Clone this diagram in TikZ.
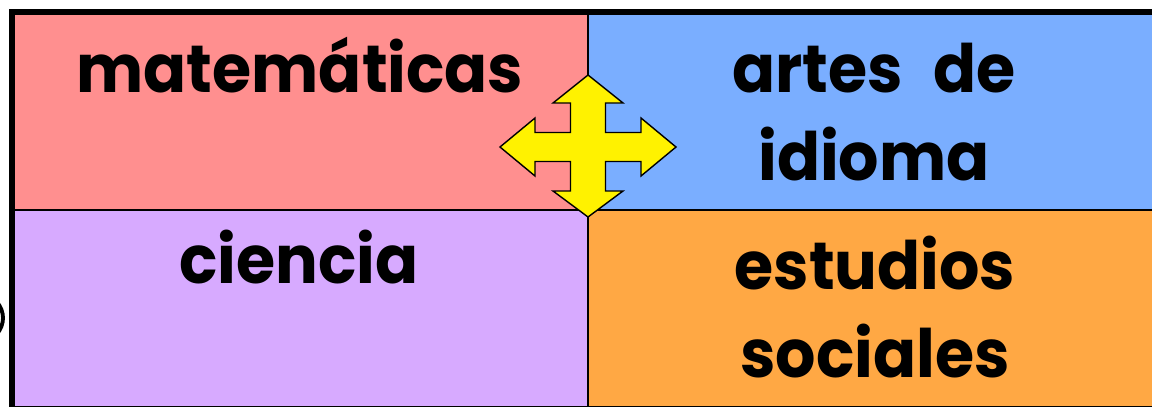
\documentclass[tikz,border=0pt]{standalone}
\usepackage{fontspec}
\setmainfont{Poppins}[FakeStretch=0.95]
\definecolor{mathred}{HTML}{FF8F8F}
\definecolor{langblue}{HTML}{7AAEFF}
\definecolor{scipurple}{HTML}{D7AAFF}
\definecolor{socorange}{HTML}{FFA844}
\begin{document}
\begin{tikzpicture}[x=0.02cm,y=-0.02cm]
\tikzset{
    quad/.style={fill=\col},
    frame line/.style={line width=3pt},
    inner line/.style={line width=1.2pt},
    subject/.style={font=\fontsize{38}{50}\selectfont\bfseries, align=center, anchor=base},
    cross/.style={fill=yellow, draw=black, line width=0.8pt, line join=miter}}
\def\xl{12}
\def\xm{588}
\def\xr{1162}
\def\yt{12}
\def\ym{210}
\def\yb{409}

\useasboundingbox (0,0) rectangle (1152,406);

% quadrants
\def\col{mathred}
\fill[quad] (\xl,\yt) rectangle (\xm,\ym);
\def\col{langblue}
\fill[quad] (\xm,\yt) rectangle (\xr,\ym);
\def\col{scipurple}
\fill[quad] (\xl,\ym) rectangle (\xm,\yb);
\def\col{socorange}
\fill[quad] (\xm,\ym) rectangle (\xr,\yb);

\draw[inner line] (\xm,\yt)--(\xm,\yb);
\draw[inner line] (\xl,\ym)--(\xr,\ym);
\draw[frame line] (\xr,\yt)--(\xl,\yt)--(\xl,\yb)--(\xr,\yb);

% left edge piece
\draw[line width=2.2pt] (-3,302) .. controls (5,312) and (5,324) .. (-3,334);

% labels (base = last line)
\node[subject] (math) at (300,92) {matemáticas};
\node[subject] (lang) at (874,180) {artes\hspace{0.45em}de\\idioma};
\node[subject] (sci) at (299,283) {ciencia};
\node[subject] (soc) at (875,377) {estudios\\sociales};

% four-way arrow
\path (\xm,147) coordinate(C);
\draw[cross] (588,75)--(623,103)--(605.5,103)--(605.5,132.5)--(641,132.5)--(641,118)
    --(676,147)--(641,176)--(641,161.5)--(605.5,161.5)--(605.5,191)--(623,191)
    --(588,217)--(553,191)--(570.5,191)--(570.5,161.5)--(535,161.5)--(535,176)
    --(500,147)--(535,118)--(535,132.5)--(570.5,132.5)--(570.5,103)--(553,103)--cycle;

\end{tikzpicture}
\end{document}
